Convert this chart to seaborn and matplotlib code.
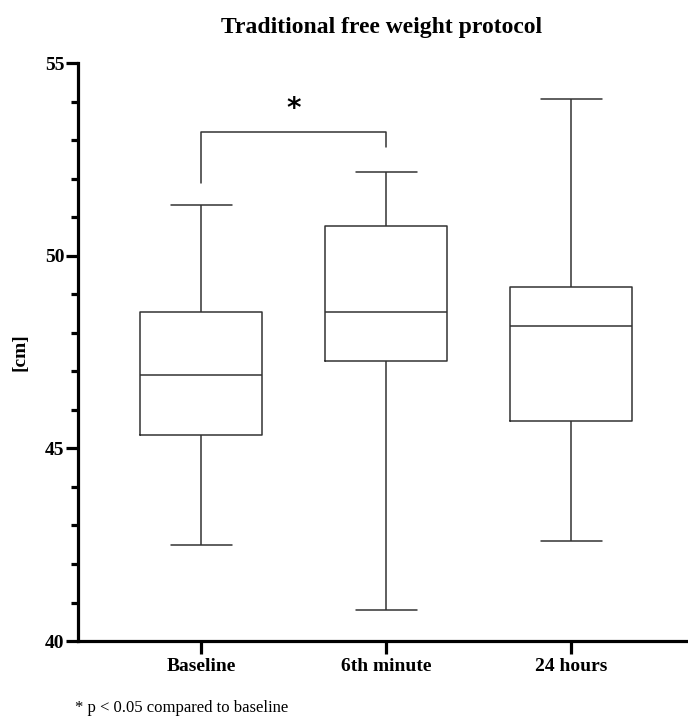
import numpy as np
import pandas as pd
import seaborn as sns
import matplotlib.pyplot as plt
from matplotlib.ticker import MultipleLocator

# five-number summaries: min, Q1, median, Q3, max
groups = ['Baseline', '6th minute', '24 hours']
baseline = [42.5, 45.36, 46.9, 48.53, 51.31]
minute6 = [40.8, 47.27, 48.53, 50.77, 52.18]
hours24 = [42.6, 45.72, 48.18, 49.19, 54.08]

df = pd.DataFrame({
    'time': np.repeat(groups, 5),
    'cm': baseline + minute6 + hours24,
})

sns.set_style('ticks')
plt.rcParams['font.family'] = ['Liberation Serif', 'DejaVu Serif']
plt.rcParams['text.color'] = 'black'
plt.rcParams['axes.labelcolor'] = 'black'
plt.rcParams['xtick.color'] = 'black'
plt.rcParams['ytick.color'] = 'black'

fig = plt.figure(figsize=(6.88, 7.26), dpi=100)
ax = fig.add_axes([0.1138, 0.117, 0.883, 0.796])

line = dict(color='#333333', linewidth=1.1)
sns.boxplot(data=df, x='time', y='cm', order=groups, whis=(0, 100),
            width=0.66, fill=False, color='#333333', linewidth=1.1,
            showcaps=True, ax=ax,
            boxprops=line, whiskerprops=line, capprops=line, medianprops=line)

ax.set_xlim(-0.666, 2.62)
ax.set_ylim(40, 55)
ax.yaxis.set_major_locator(MultipleLocator(5))
ax.yaxis.set_minor_locator(MultipleLocator(1))

for s in ['top', 'right']:
    ax.spines[s].set_visible(False)
for s in ['left', 'bottom']:
    ax.spines[s].set_linewidth(2.3)
    ax.spines[s].set_color('black')

ax.tick_params(axis='y', which='major', length=9, width=2.3, labelsize=14, pad=1)
ax.tick_params(axis='y', which='minor', length=5, width=2.3)
ax.tick_params(axis='x', which='major', length=9, width=2.3, labelsize=14, pad=3)
for lbl in ax.get_xticklabels() + ax.get_yticklabels():
    lbl.set_fontweight('bold')

ax.set_xlabel('')
ax.set_ylabel('[cm]', fontsize=14, fontweight='bold', labelpad=12)
ax.set_title('Traditional free weight protocol', fontsize=17, fontweight='bold', pad=22)

# significance bracket Baseline vs 6th minute
ax.plot([0, 0, 1, 1], [51.9, 53.22, 53.22, 52.82], color='#333333', linewidth=1.1, clip_on=False)
ax.text(0.5, 53.45, '*', ha='center', va='bottom', fontsize=20, fontweight='bold',
        family=['DejaVu Sans'])

fig.text(0.109, 0.019, '* p < 0.05 compared to baseline', fontsize=12)

plt.savefig('out.png', dpi=100)
